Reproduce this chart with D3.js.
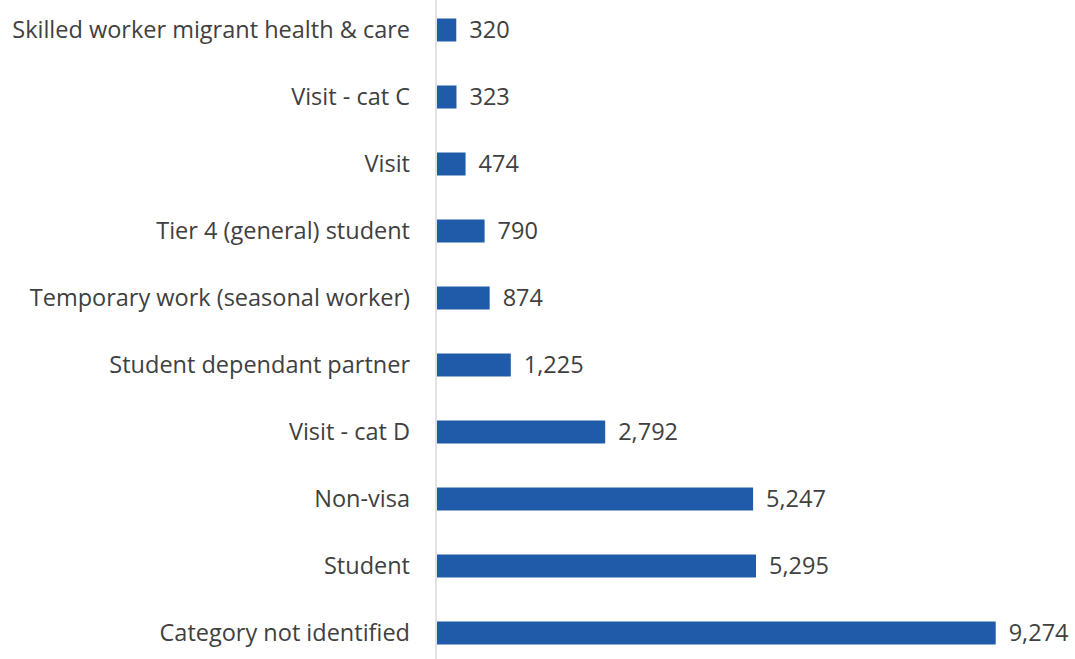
<!DOCTYPE html>
<html>
<head>
<meta charset="utf-8">
<script src="https://cdn.jsdelivr.net/npm/d3@7"></script>
<style>
  html, body { margin: 0; padding: 0; background: #ffffff; }
  svg { display: block; }
</style>
</head>
<body>
<svg id="chart" width="1075" height="659"></svg>
<script>
// Visa categories, top to bottom
const categories = [
  "Skilled worker migrant health & care",
  "Visit - cat C",
  "Visit",
  "Tier 4 (general) student",
  "Temporary work (seasonal worker)",
  "Student dependant partner",
  "Visit - cat D",
  "Non-visa",
  "Student",
  "Category not identified"
];
const counts = [320, 323, 474, 790, 874, 1225, 2792, 5247, 5295, 9274];

const W = 1075, H = 659;
const x0 = 437;
const svg = d3.select("#chart");

const x = d3.scaleLinear().domain([0, 9274]).range([x0, 995.7]);
const y = d3.scaleBand()
  .domain(categories)
  .range([-3.5, 666.5])
  .paddingInner(0.657)
  .paddingOuter(0.657 / 2);

const fmt = d3.format(",");
const font = "'Open Sans', 'Liberation Sans', sans-serif";
const fontSize = 23.5;

// vertical category axis line
svg.append("line")
  .attr("x1", x0 - 1).attr("x2", x0 - 1)
  .attr("y1", 0).attr("y2", H)
  .attr("stroke", "#d9d9d9")
  .attr("stroke-width", 1.5);

// bars
svg.append("g").selectAll("rect")
  .data(categories)
  .join("rect")
  .attr("x", x0)
  .attr("y", d => y(d))
  .attr("width", (d, i) => x(counts[i]) - x0)
  .attr("height", y.bandwidth())
  .attr("fill", "#1f5ba8");

// category labels
svg.append("g").selectAll("text")
  .data(categories)
  .join("text")
  .attr("x", 410)
  .attr("y", d => y(d) + y.bandwidth() / 2)
  .attr("dy", "0.35em")
  .attr("text-anchor", "end")
  .attr("font-family", font)
  .attr("font-size", fontSize)
  .attr("fill", "#404040")
  .text(d => d);

// value labels
svg.append("g").selectAll("text")
  .data(categories)
  .join("text")
  .attr("x", (d, i) => x(counts[i]) + 13)
  .attr("y", d => y(d) + y.bandwidth() / 2)
  .attr("dy", "0.35em")
  .attr("font-family", font)
  .attr("font-size", fontSize)
  .attr("fill", "#404040")
  .text((d, i) => fmt(counts[i]));
</script>
</body>
</html>
